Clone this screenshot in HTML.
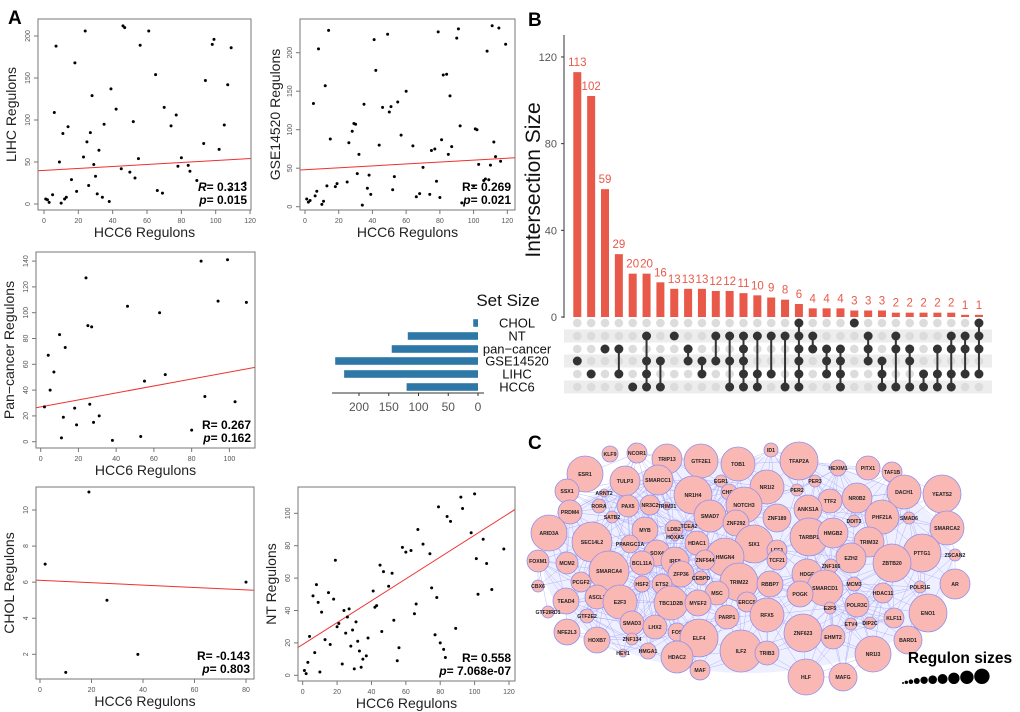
<!DOCTYPE html>
<html><head><meta charset="utf-8">
<style>
html,body{margin:0;padding:0;background:#fff;}
svg{display:block;font-family:"Liberation Sans",Arial,sans-serif;}
</style></head>
<body>
<svg id="fig" width="1020" height="712" viewBox="0 0 1020 712" xmlns="http://www.w3.org/2000/svg">
<text x="8" y="24" font-size="19" font-weight="bold">A</text>
<text x="528" y="26" font-size="19" font-weight="bold">B</text>
<text x="528" y="449" font-size="19" font-weight="bold">C</text>
<g id="scatters"></g>
<g id="upset"></g>
<g id="network"></g>
</svg>
<script>
// ---------- Scatter data ----------
const lihcX=[1,2,3,5,6,7,9,10,11,12,13,14,16,18,19,23,24,25,26,27,28,29,30,31,32,34,35,38,39,42,45,46,47,50,52,53,55,56,61,65,66,69,70,74,77,78,80,84,85,89,93,94,98,99,102,105,107,108,109,117];
const lihcY=[6,5,2,11,109,188,50,1,84,6,8,92,29,168,15,56,206,74,22,85,129,47,33,12,64,8,95,3,137,113,42,212,210,38,98,31,54,189,206,154,16,13,115,93,106,45,55,46,39,28,72,147,190,196,65,94,142,17,186,25];
const gseX=[1,2,3,5,6,7,8,10,11,12,13,14,15,18,19,25,26,28,29,30,31,32,34,35,37,38,39,41,42,44,46,49,50,51,52,53,55,57,60,64,66,68,70,74,75,77,78,79,80,81,82,84,85,86,87,90,91,92,93,100,101,102,103,106,107,108,109,110,111,112,113,115,116,119];
const gseY=[10,6,8,134,14,20,205,3,7,157,27,229,88,26,30,32,83,98,108,107,43,68,2,133,24,41,16,217,177,80,129,224,123,130,22,39,136,93,150,79,13,17,51,16,73,75,33,227,12,87,171,172,68,144,78,219,231,105,5,27,101,100,55,34,36,202,35,54,235,84,65,232,59,211];
const panX=[2,4,5,7,10,11,12,13,18,19,24,25,26,27,28,31,38,46,53,55,63,66,80,85,87,94,99,103,109];
const panY=[27,67,40,54,83,3,19,73,26,13,127,90,29,89,15,20,1,105,4,47,100,52,9,140,35,109,141,31,108];
const cholX=[2,10,19,26,38,80];
const cholY=[7,1,11,5,2,6];
const ntX=[1,2,3,4,6,7,8,9,10,11,13,15,16,18,19,20,21,23,24,25,26,27,28,29,30,31,32,33,34,35,37,38,41,42,43,45,46,47,50,52,53,55,56,58,60,63,65,66,67,70,74,75,77,78,79,80,82,83,84,86,89,92,93,98,100,101,102,105,107,110,117];
const ntY=[3,1,8,24,49,14,56,45,2,39,22,51,19,47,71,30,32,7,40,26,36,41,18,28,4,33,21,15,5,10,12,23,52,42,43,68,27,64,55,63,34,9,17,79,76,77,38,44,90,81,75,54,25,48,104,20,16,11,98,95,29,110,103,88,112,72,50,84,69,53,78];
const fitIntercepts=[40,48,27,6.1,19];
const fitSlopes=[0.117,0.125,0.27,-0.0066,0.675];
const statR=["0.313","0.269","0.267","-0.143","0.558"];
const statP=["0.015","0.021","0.162","0.803","7.068e-07"];
const yTitles=["LIHC Regulons","GSE14520 Regulons","Pan\u2212cancer Regulons","CHOL Regulons","NT Regulons"];

const NS="http://www.w3.org/2000/svg";
function mk(tag,attrs,parent){const e=document.createElementNS(NS,tag);for(const k in attrs)e.setAttribute(k,attrs[k]);if(parent)parent.appendChild(e);return e;}

const layouts=[
 {f:[38,19,251,210],x0:44,xs:1.717,y0:204,ys:0.84,xt:[0,20,40,60,80,100,120],yt:[0,50,100,150,200],xd:lihcX,yd:lihcY,ytx:16,rItal:true},
 {f:[300,19,515,210],x0:305,xs:1.686,y0:206.7,ys:0.77,xt:[0,20,40,60,80,100,120],yt:[0,50,100,150,200],xd:gseX,yd:gseY,ytx:280,rItal:false},
 {f:[36,252,255,448],x0:40.7,xs:1.887,y0:441.7,ys:1.29,xt:[0,20,40,60,80,100],yt:[0,20,40,60,80,100,120,140],xd:panX,yd:panY,ytx:14,rItal:false},
 {f:[36,487,254,679],x0:40,xs:2.575,y0:690.4,ys:18.04,xt:[0,20,40,60,80],yt:[2,4,6,8,10],xd:cholX,yd:cholY,ytx:14,rItal:false},
 {f:[298,487,515,681],x0:302.7,xs:1.719,y0:675.3,ys:1.62,xt:[0,20,40,60,80,100,120],yt:[0,20,40,60,80,100],xd:ntX,yd:ntY,ytx:276,rItal:false}
];
const sc=document.getElementById('scatters');
layouts.forEach((L,i)=>{
  const g=mk('g',{},sc);
  
  
  const [x1,y1,x2,y2]=L.f;
  const X=v=>L.x0+v*L.xs, Y=v=>L.y0-v*L.ys;
  const cp=mk('clipPath',{id:'cp'+i},g);
  mk('rect',{x:x1,y:y1,width:x2-x1,height:y2-y1},cp);
  const fl=mk('line',{x1:x1,y1:Y(fitIntercepts[i]+fitSlopes[i]*((x1-L.x0)/L.xs)),x2:x2,y2:Y(fitIntercepts[i]+fitSlopes[i]*((x2-L.x0)/L.xs)),stroke:'#f03030','stroke-width':1,'clip-path':'url(#cp'+i+')'},g);
  
  
  const fr=mk('rect',{x:x1,y:y1,width:x2-x1,height:y2-y1,fill:'none',stroke:'#777','stroke-width':1},g);
  
  
  L.xd.forEach((v,j)=>{
    const c=mk('circle',{cx:X(v),cy:Y(L.yd[j]),r:1.5,fill:'#000'},g);
    
    
  });
  L.xt.forEach(t=>{
    mk('line',{x1:X(t),x2:X(t),y1:y2,y2:y2+4,stroke:'#777'},g);
    const tl=mk('text',{x:X(t),y:y2+13,'font-size':7,fill:'#555','text-anchor':'middle'},g);
    tl.textContent=t;
    
    
  });
  L.yt.forEach(t=>{
    mk('line',{x1:x1-4,x2:x1,y1:Y(t),y2:Y(t),stroke:'#777'},g);
    const tl=mk('text',{x:x1-8,y:Y(t),'font-size':7,fill:'#555','text-anchor':'middle',transform:'rotate(-90 '+(x1-8)+' '+Y(t)+')'},g);
    tl.textContent=t;
    
    
  });
  const xt=mk('text',{x:(x1+x2)/2,y:y2+27,'font-size':14,fill:'#222','text-anchor':'middle'},g);
  xt.textContent='HCC6 Regulons';
  
  
  const yy=(y1+y2)/2;
  const ytt=mk('text',{x:L.ytx,y:yy,'font-size':14,fill:'#222','text-anchor':'middle',transform:'rotate(-90 '+L.ytx+' '+yy+')'},g);
  ytt.textContent=yTitles[i];
  
  
  const rt=mk('text',{x:x2-4,y:y2-19,'font-size':12,'font-weight':'bold','text-anchor':'end'},g);
  rt.innerHTML=(L.rItal?'<tspan font-style="italic">R</tspan>':'R')+'= '+statR[i];
  
  
  const pt=mk('text',{x:x2-4,y:y2-6,'font-size':12,'font-weight':'bold','text-anchor':'end'},g);
  pt.innerHTML='<tspan font-style="italic">p</tspan>= '+statP[i];
  
  
});

// ---------- UpSet data ----------
const setNames=["CHOL","NT","pan\u2212cancer","GSE14520","LIHC","HCC6"];
const setSizes=[8,118,145,240,225,120];
const interSizes=[113,102,59,29,20,20,16,13,13,13,12,12,11,10,9,8,6,4,4,4,3,3,3,2,2,2,2,2,1,1];
const interMembers=[[3],[4],[2],[2,4],[5],[1,3,4,5],[3,5],[1],[2,3],[3,4],[1,3],[1,3,5],[1,2,3,4,5],[1,4,5],[1,4],[1,5],[0,1,2,3,4,5],[1,2],[2,3,4],[2,3,4,5],[0],[1,2,3],[3,4,5],[1,2,5],[2,3,5],[4,5],[2,4,5],[1,2,4,5],[1,2,4],[0,1,2,4]];
const interTicks=[0,40,80,120];
const setTicks=[200,150,100,50,0];

const up=document.getElementById('upset');
const bx0=577.3, bdx=13.85, by0=317, bys=2.167;
const rowY=[323,336,349,361,374,387];
mk('line',{x1:564,x2:564,y1:35,y2:318,stroke:'#333','stroke-width':1},up);
interTicks.forEach(t=>{
  mk('line',{x1:561,x2:564,y1:by0-t*bys,y2:by0-t*bys,stroke:'#333'},up);
  const tl=mk('text',{x:557,y:by0-t*bys+4,'font-size':11,fill:'#555','text-anchor':'end'},up);
  tl.textContent=t;
  
  
});
const yl=mk('text',{x:540,y:180,'font-size':21,fill:'#111','text-anchor':'middle',transform:'rotate(-90 540 180)'},up);
yl.textContent='Intersection Size';


[1,3,5].forEach(r=>{
  const s=mk('rect',{x:564,y:rowY[r]-6.5,width:428,height:13,fill:'#ededed'},up);
  
  
});
interSizes.forEach((v,i)=>{
  const cx=bx0+i*bdx;
  const b=mk('rect',{x:cx-4,y:by0-v*bys,width:8,height:v*bys,fill:'#e8594a'},up);
  
  
  const t=mk('text',{x:cx,y:by0-v*bys-6,'font-size':11.5,fill:'#e8594a','text-anchor':'middle'},up);
  t.textContent=v;
  
  
  const m=interMembers[i];
  rowY.forEach((ry,r)=>{
    if(!m.includes(r)){const d=mk('circle',{cx:cx,cy:ry,r:4.3,fill:'#dcdcdc'},up);
      
      }
  });
  if(m.length>1){
    const l=mk('line',{x1:cx,x2:cx,y1:rowY[Math.min(...m)],y2:rowY[Math.max(...m)],stroke:'#333','stroke-width':2},up);
    
    
  }
  m.forEach(r=>{
    const d=mk('circle',{cx:cx,cy:rowY[r],r:4.5,fill:'#333'},up);
    
    
  });
});
const sx0=478, sxs=0.595;
const ss=mk('text',{x:508,y:306,'font-size':17,fill:'#111','text-anchor':'middle'},up);
ss.textContent='Set Size';


setSizes.forEach((v,r)=>{
  const b=mk('rect',{x:sx0-v*sxs,y:rowY[r]-3.8,width:v*sxs,height:7.6,fill:'#2e78a8'},up);
  
  
  const t=mk('text',{x:517,y:rowY[r]+4.5,'font-size':13,fill:'#111','text-anchor':'middle'},up);
  t.textContent=setNames[r];
  
  
});
mk('line',{x1:332,x2:484,y1:393,y2:393,stroke:'#333'},up);
setTicks.forEach(t=>{
  mk('line',{x1:sx0-t*sxs,x2:sx0-t*sxs,y1:393,y2:396,stroke:'#333'},up);
  const tl=mk('text',{x:sx0-t*sxs,y:411,'font-size':12,fill:'#555','text-anchor':'middle'},up);
  tl.textContent=t;
  
  
});

// ---------- Network ----------
const nodes=[
["KLF9",610,454,8],["NCOR1",637,453,10],["TRIP13",667,459,15],["GTF2E1",701,461,17],["TOB1",738,464,17],["ID1",771,450,7],
["ESR1",585,474,18],["TULP3",625,481,15],["SMARCC1",658,480,15],["NR1H4",693,495,19],["EGR1",721,481,6],["CHD7",729,492,8],["NR1I2",767,487,17],
["SSX1",567,491,12],["ARNT2",604,493,4],["RORA",599,506,7],["PAX5",628,506,11],["NR3C2",650,505,10],["TRIM31",667,506,4],["NOTCH3",744,505,18],
["SMAD7",710,516,16],["ZNF292",736,523,13],["PRDM4",570,512,12],["SATB2",612,517,6],["ZNF189",777,518,14],["ARID3A",549,533,18],["SEC14L2",592,542,20],
["MYB",645,530,13],["LDB2",674,529,9],["TCEA2",689,526,5],["HOXA5",675,537,4],["PPARGC1A",630,544,9],["HDAC1",697,543,12],["SIX1",754,544,19],["HMGN4",725,557,19],
["LEF1",777,550,10],["TCF21",777,560,10],["SOX4",657,553,13],["BCL11A",642,563,12],["IRF8",675,561,14],["ZNF544",705,560,10],["FOXM1",538,561,11],["MCM2",567,563,11],
["SMARCA4",609,571,20],["ZFP36",681,574,13],["CEBPD",701,578,7],["TRIM22",739,582,19],["RBBP7",770,584,13],["PCGF2",581,582,10],["HSF2",642,584,8],["ETS2",662,584,10],
["CBX6",538,586,6],["MSC",717,593,12],["TBC1D2B",671,603,17],["MYEF2",698,603,13],["TEAD4",566,601,13],["ASCL1",597,597,12],["E2F3",620,602,17],["ERCC5",747,602,10],
["RFX5",767,615,17],["GTF2IRD1",548,612,6],["GTF2E2",587,616,7],["PARP1",727,617,12],["SMAD3",632,623,12],["LHX2",655,627,12],["FOS",677,632,9],["ELF4",699,638,19],
["NFE2L3",567,632,13],["HOXB7",597,640,13],["ZNF134",632,639,6],["ILF2",741,651,21],["TRIB3",767,653,12],["HEY1",623,653,4],["HMGA1",648,651,8],["HDAC2",677,657,16],["MAF",700,670,10],
["TFAP2A",799,461,19],["HEXIM1",838,468,8],["PITX1",868,468,12],["TAF1B",892,472,10],["PER3",815,481,6],["PER2",797,490,6],["DACH1",904,492,17],["YEATS2",942,494,19],
["TTF2",830,501,12],["NR0B2",857,498,15],["ANKS1A",808,509,14],["DDIT3",854,521,6],["PHF21A",882,517,17],["SMAD6",909,518,6],["SMARCA2",947,528,17],
["TARBP1",809,537,19],["HMGB2",833,533,15],["TRIM32",869,542,15],["PTTG1",922,553,19],["ZSCAN2",955,555,6],["EZH2",851,558,15],["ZNF165",831,566,7],["ZBTB20",892,563,19],
["HDGF",807,574,15],["SMARCD1",825,588,18],["MCM3",854,584,7],["AR",955,584,15],["POLR1E",920,587,6],["HDAC11",883,593,10],["POGK",800,594,13],["POLR3C",857,605,12],
["E2F5",830,608,6],["ENO1",928,613,19],["KLF11",894,618,10],["ETV4",851,624,6],["DIP2C",870,623,6],["ZNF623",803,633,19],["EHMT2",833,637,12],["BARD1",908,640,14],
["NR1I3",873,654,18],["HLF",806,677,18],["MAFG",843,677,14]
];
const legendSizes=[1,1.7,2.3,3,3.7,4.3,5,5.7,6.7,7.7];

const net=document.getElementById('network');
const bg=mk('ellipse',{cx:748,cy:565,rx:205,ry:108,fill:'#e4e6ff',opacity:0.6},net);


const eg=mk('g',{stroke:'#5a5af0','stroke-width':0.4,opacity:0.5},net);


for(let i=0;i<nodes.length;i++){for(let j=i+1;j<nodes.length;j++){
  const dx=nodes[i][1]-nodes[j][1],dy=nodes[i][2]-nodes[j][2];
  const d=Math.sqrt(dx*dx+dy*dy);
  if(d<75 && ((i*7+j*3)%3!==0)){
    const l=mk('line',{x1:nodes[i][1],y1:nodes[i][2],x2:nodes[j][1],y2:nodes[j][2]},eg);
    
    
  }
}}
nodes.forEach(n=>{
  const g=mk('g',{},net);
  
  
  mk('circle',{cx:n[1],cy:n[2],r:n[3],fill:'#f9b8b4',stroke:'#8f8ff0','stroke-width':0.8},g);
  const t=mk('text',{x:n[1],y:n[2]+2,'font-size':5.2,'font-weight':'bold',fill:'#222','text-anchor':'middle'},g);
  t.textContent=n[0];
});
const lt=mk('text',{x:960,y:663,'font-size':15.5,'font-weight':'bold',fill:'#000','text-anchor':'middle'},net);
lt.textContent='Regulon sizes';


let lx=903;
legendSizes.forEach((r,i)=>{
  lx+= (i===0?0:legendSizes[i-1]+r+0.6);
  const c=mk('circle',{cx:lx,cy:684-r,r:r,fill:'#000'},net);
  
  
});
</script>
</body></html>
